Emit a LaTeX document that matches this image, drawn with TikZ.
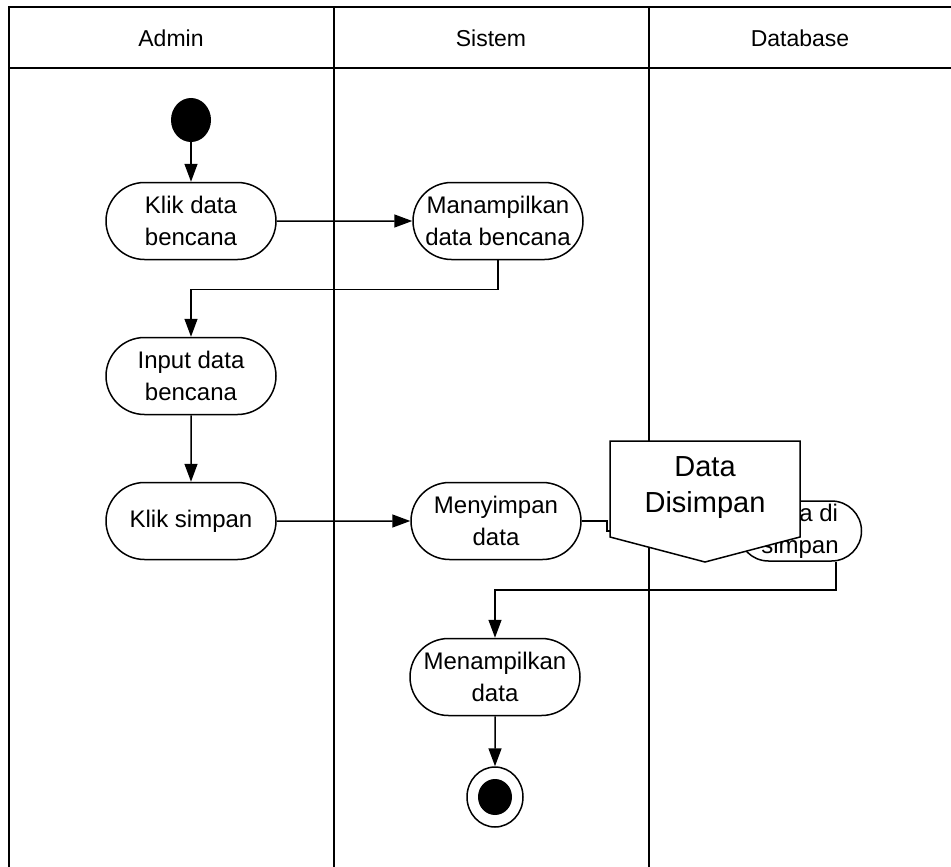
\documentclass[tikz,border=0pt]{standalone}
\usepackage{fontspec}
\setmainfont{Liberation Sans}
\usetikzlibrary{arrows.meta,shapes.misc,shapes.geometric}

\tikzset{
  lane/.style={line width=2pt},
  head/.style={font=\fontsize{23}{27}\selectfont},
  act/.style={rounded rectangle,draw,line width=1.5pt,fill=white,
    minimum width=174pt,minimum height=77pt,inner sep=2pt,align=center,
    font=\fontsize{24}{32}\selectfont},
  startdot/.style={ellipse,fill=black,minimum width=40pt,minimum height=44pt,inner sep=0pt},
  enddot/.style={ellipse,draw,line width=1.5pt,minimum width=56pt,minimum height=60pt,inner sep=0pt},
  flow/.style={line width=1.5pt,-{Triangle[length=18pt,width=13pt]}},
  notetext/.style={align=center,font=\fontsize{29}{36}\selectfont}
}

\begin{document}
\begin{tikzpicture}[x=1pt,y=-1pt]
\useasboundingbox (0,0) rectangle (951,867);
% swimlane
\draw[lane] (951,7) -- (9,7) -- (9,867);
\draw[lane] (9,68) -- (951,68);
\draw[lane] (334,7) -- (334,867);
\draw[lane] (649,7) -- (649,867);
\node[head] (hadmin) at (171,38) {Admin};
\node[head] (hsistem) at (491,38) {Sistem};
\node[head] (hdb) at (800,38) {Database};
% aktivitas
\node[startdot] (mulai) at (191,120) {};
\node[act] (klikdata) at (191,221) {Klik data\\bencana};
\node[act] (tampil) at (498,221) {Manampilkan\\data bencana};
\node[act] (input) at (191,376) {Input data\\bencana};
\node[act] (kliksimpan) at (191,521) {Klik simpan};
\node[act] (menyimpan) at (496,521) {Menyimpan\\data};
\node[act,minimum width=127pt,minimum height=60pt] (disimpan) at (800,531) {Data di\\simpan};
\node[act] (tampildata) at (495,677) {Menampilkan\\data};
\node[enddot] (selesai) at (495,797) {};
\fill (selesai.center) ellipse [x radius=17pt,y radius=18pt];
% alur
\draw[flow] (mulai) -- (klikdata);
\draw[flow] (klikdata) -- (tampil);
\draw[flow] (tampil.south) -- ++(0,29) -| (input.north);
\draw[flow] (input) -- (kliksimpan);
\draw[flow] (kliksimpan) -- (menyimpan);
\draw[flow] (menyimpan.east) -- ++(25,0) |- (disimpan.west);
\draw[flow] ([xshift=36pt]disimpan.south) -- ++(0,28) -| (tampildata.north);
\draw[flow] (tampildata) -- (selesai);
% catatan
\filldraw[fill=white,line width=1.5pt] (610,441) -- (800,441) -- (800,537) -- (705,562) -- (610,537) -- cycle;
\node[notetext] (catatan) at (705,488) {Data\\Disimpan};
\end{tikzpicture}
\end{document}
